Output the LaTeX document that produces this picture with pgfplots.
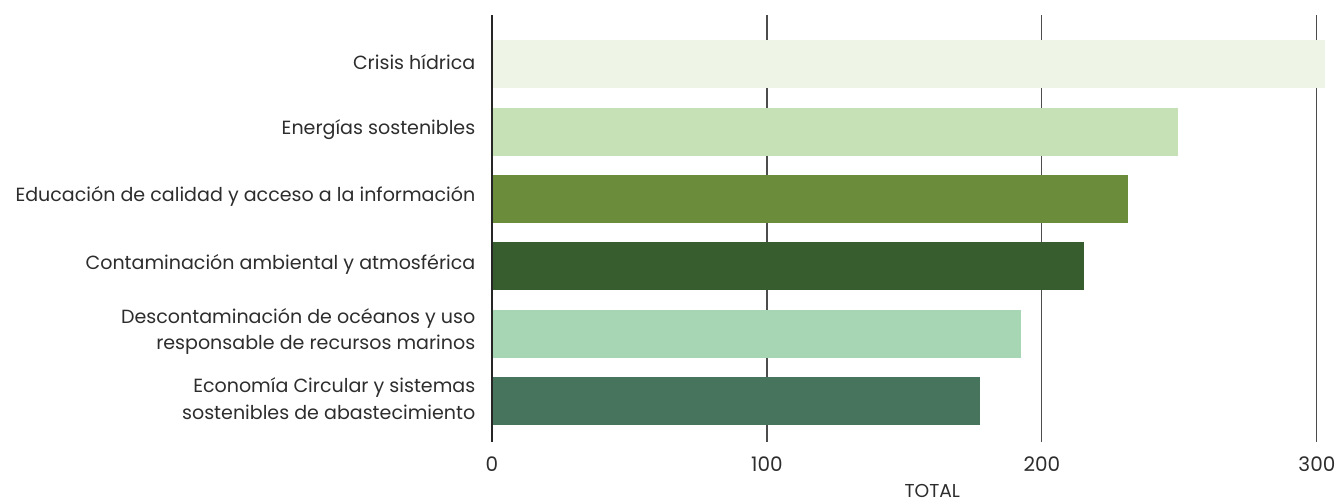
\documentclass[border=0pt]{standalone}
\usepackage{pgfplots}
\pgfplotsset{compat=1.18}
\usepackage{fontspec}
\setmainfont{Poppins}
\definecolor{cA}{RGB}{238,244,230}
\definecolor{cB}{RGB}{199,225,182}
\definecolor{cC}{RGB}{107,140,58}
\definecolor{cD}{RGB}{55,92,45}
\definecolor{cE}{RGB}{166,214,180}
\definecolor{cF}{RGB}{70,116,93}
\definecolor{txt}{RGB}{45,45,45}
\begin{document}
\begin{tikzpicture}[x=1pt,y=1pt]
\begin{axis}[
  name=ax,
  at={(0,0)}, anchor=south west,
  scale only axis,
  width=629pt, height=320.25pt,
  xbar, bar width=36pt, bar shift=0pt,
  xmin=0, xmax=305,
  ymin=-0.61, ymax=5.73,
  axis line style={draw=none},
  major tick length=0pt,
  xtick={0,100,200,300},
  ytick={0,1,2,3,4,5},
  yticklabels={{Economía Circular y sistemas\\sostenibles de abastecimiento},
               {Descontaminación de océanos y uso\\responsable de recursos marinos},
               {Contaminación ambiental y atmosférica},
               {Educación de calidad y acceso a la información},
               {Energías sostenibles},
               {Crisis hídrica}},
  yticklabel style={align=right, anchor=east, xshift=-9pt, yshift=1.5pt, font=\fontsize{14.3}{20}\selectfont, text=txt},
  xticklabel style={anchor=center, yshift=-16.5pt, font=\fontsize{15}{19}\selectfont, text=txt},
  /pgf/number format/assume math mode=true,
  xmajorgrids,
  major grid style={draw=black!70, line width=0.8pt},
  xlabel={TOTAL},
  xlabel style={at={(axis description cs:0.525,0)}, anchor=center, yshift=-37pt, font=\fontsize{14}{17}\selectfont, text=txt},
  clip=false,
]
\addplot[fill=cF, draw=none] coordinates {(177.5,0)};
\addplot[fill=cE, draw=none] coordinates {(192.4,1)};
\addplot[fill=cD, draw=none] coordinates {(215.3,2)};
\addplot[fill=cC, draw=none] coordinates {(231.3,3)};
\addplot[fill=cB, draw=none] coordinates {(249.5,4)};
\addplot[fill=cA, draw=none] coordinates {(303,5)};
\draw[black!85, line width=0.8pt] (axis cs:0,-0.61) -- (axis cs:0,5.73);
\end{axis}
\pgfresetboundingbox
\path (-369pt,-45.75pt) rectangle (636.75pt,331.5pt);
\end{tikzpicture}
\end{document}
